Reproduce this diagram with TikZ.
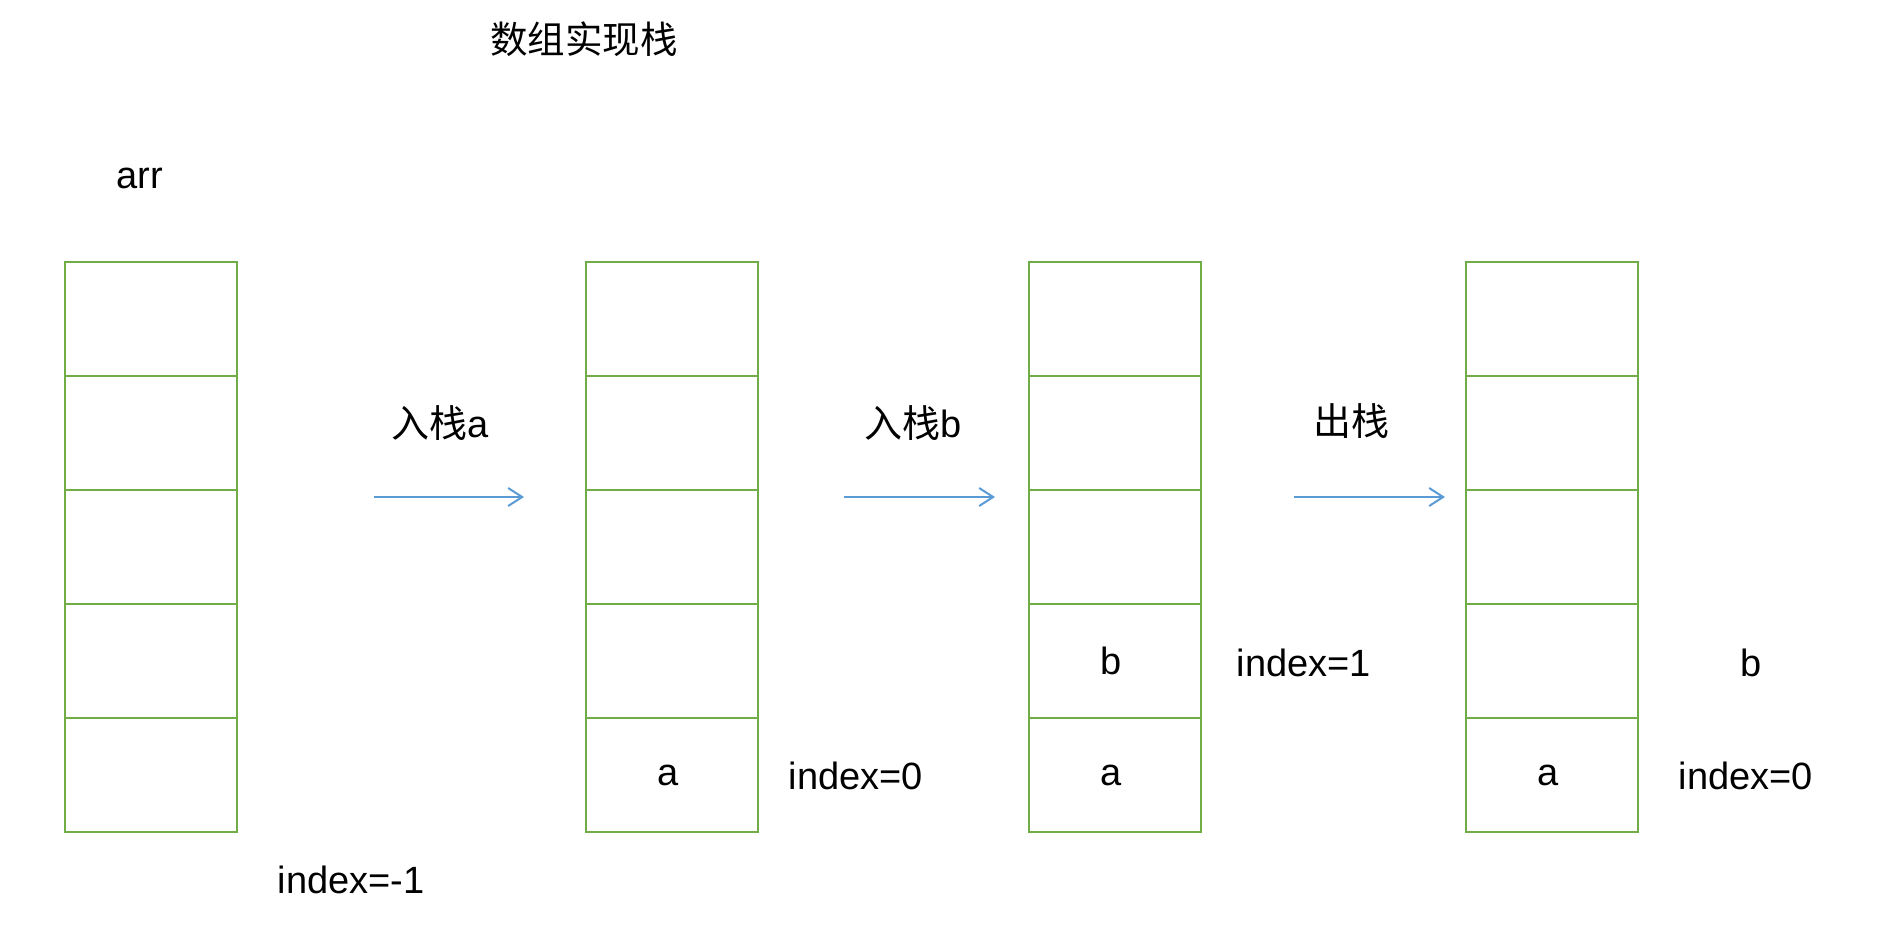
\documentclass[tikz,border=0pt]{standalone}
\usepackage{fontspec}
\setmainfont{Liberation Sans}
\newfontfamily\cjk{Noto Sans CJK SC}
\usetikzlibrary{arrows.meta}
\definecolor{cellgreen}{HTML}{70AD47}
\definecolor{arrowblue}{HTML}{5B9BD5}
\tikzset{
  cell/.style={draw=cellgreen,line width=2pt,minimum width=172pt,minimum height=114pt,inner sep=0pt,anchor=north west,font=\fontsize{38}{44}\selectfont},
  lbl/.style={inner sep=0pt,font=\fontsize{38}{44}\selectfont},
  title/.style={inner sep=0pt,font=\fontsize{37.5}{44}\selectfont\cjk},
  flow/.style={draw=arrowblue,line width=2pt,-{Straight Barb[length=14pt,width=18pt,line width=2pt]}}
}
\begin{document}
\begin{tikzpicture}[x=1pt,y=-1pt]
\useasboundingbox (0,0) rectangle (1896,944);
% title and labels
\node[title] (title) at (584,39) {数组实现栈};
\node[lbl] (arr) at (140,178) {arr};
% stacks
\foreach \s/\x in {1/64,2/585,3/1028,4/1465}{
  \foreach \r in {1,...,5}{
    \node[cell] (s\s r\r) at (\x,{261+(\r-1)*114}) {};
  }
}
% cell contents
\node[lbl] (va2) at ([xshift=-4pt]s2r5.center) {a};
\node[lbl] (vb3) at ([xshift=-4pt]s3r4.center) {b};
\node[lbl] (va3) at ([xshift=-4pt]s3r5.center) {a};
\node[lbl] (va4) at ([xshift=-4pt]s4r5.center) {a};
% index labels
\node[lbl] (i1) at (351,880) {index=-1};
\node[lbl] (i2) at (856,776) {index=0};
\node[lbl] (i3) at (1304,663) {index=1};
\node[lbl] (pb) at (1751,663) {b};
\node[lbl] (i4) at (1746,776) {index=0};
% operation labels
\node[lbl] (op1) at (440,423) {{\cjk 入栈}a};
\node[lbl] (op2) at (913,423) {{\cjk 入栈}b};
\node[lbl] (op3) at (1351,421) {{\cjk 出栈}};
% arrows
\coordinate (a1s) at (374,497); \coordinate (a1e) at (524,497);
\coordinate (a2s) at (844,497); \coordinate (a2e) at (995,497);
\coordinate (a3s) at (1294,497); \coordinate (a3e) at (1445,497);
\draw[flow] (a1s) -- (a1e);
\draw[flow] (a2s) -- (a2e);
\draw[flow] (a3s) -- (a3e);
\end{tikzpicture}
\end{document}
